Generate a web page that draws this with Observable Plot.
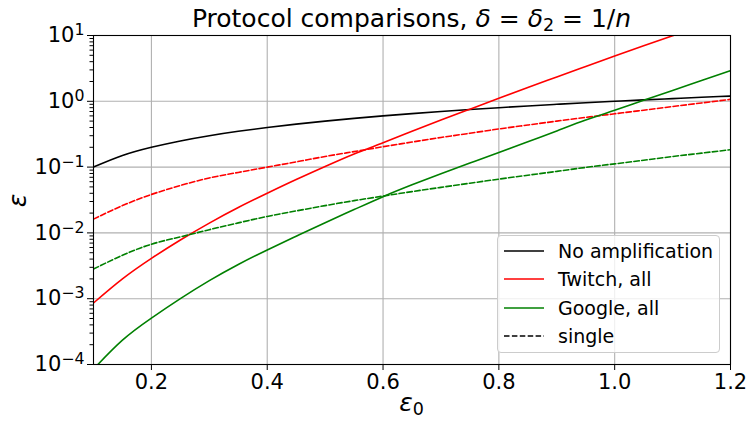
<!DOCTYPE html>
<html><head><meta charset="utf-8">
<script src="https://cdn.jsdelivr.net/npm/d3@7"></script>
<script src="https://cdn.jsdelivr.net/npm/@observablehq/plot@0.6"></script>
<style>
body{margin:0;background:#fff;}
#wrap{position:relative;width:754px;height:424px;font-family:"DejaVu Sans",sans-serif;color:#000;overflow:hidden;}
#chart{position:absolute;left:0;top:0;}
.title{position:absolute;top:6px;left:93px;width:637px;text-align:center;font-size:25px;line-height:25px;white-space:nowrap;}
.xlab{position:absolute;left:93px;width:637px;top:390px;text-align:center;font-size:25px;line-height:25px;}
.ylab{position:absolute;left:-3px;top:188px;width:40px;text-align:center;font-size:25px;line-height:25px;transform:rotate(-90deg);}
i{font-style:italic;}
sub{font-size:0.7em;vertical-align:-0.25em;line-height:0;}
.legend{position:absolute;left:497px;top:235px;width:221px;height:116px;border:1px solid #cccccc;border-radius:4px;background:rgba(255,255,255,0.8);box-sizing:content-box;}
.legend .item{position:absolute;left:0;height:28px;display:flex;align-items:center;font-size:19px;}
.legend svg{margin-left:6px;margin-right:14px;}
</style></head><body>
<div id="wrap">
<div id="chart"></div>
<div class="title">Protocol comparisons, <i>δ</i> = <i>δ</i><sub>2</sub> = 1/<i>n</i></div>
<div class="xlab"><i>ε</i><sub>0</sub></div>
<div class="ylab"><i>ε</i></div>
<div class="legend" id="legend"></div>
</div>
<script>
// epsilon_0 values (x)
const eps0 = [0.1,0.15,0.2,0.25,0.3,0.35,0.4,0.45,0.5,0.55,0.6,0.65,0.7,0.75,0.8,0.85,0.9,0.95,1.0,1.05,1.1,1.15,1.2];
// No amplification (epsilon = epsilon_0)
const noAmp = [0.1,0.15,0.2,0.25,0.3,0.35,0.4,0.45,0.5,0.55,0.6,0.65,0.7,0.75,0.8,0.85,0.9,0.95,1.0,1.05,1.1,1.15,1.2];
// Twitch, all
const twitchAll = [0.00086,0.0020,0.0041,0.0078,0.0141,0.0243,0.040,0.0646,0.102,0.158,0.234,0.35,0.52,0.76,1.11,1.62,2.34,3.39,4.9,7.0,9.9,13.8,19.3];
// Twitch, single
const twitchSingle = [0.0162,0.026,0.0384,0.0525,0.0684,0.083,0.100,0.120,0.145,0.172,0.204,0.240,0.282,0.327,0.380,0.436,0.50,0.569,0.646,0.733,0.832,0.944,1.07];
// Google, all
const googleAll = [0.000085,0.000234,0.000506,0.0010,0.00188,0.00331,0.00551,0.00891,0.0143,0.0226,0.0355,0.0537,0.0794,0.115,0.166,0.243,0.355,0.519,0.730,1.035,1.46,2.07,2.92];
// Google, single
const googleSingle = [0.00282,0.00457,0.00673,0.00871,0.0112,0.0142,0.0178,0.0216,0.0260,0.0309,0.0363,0.0424,0.0492,0.0569,0.0656,0.0753,0.0861,0.0989,0.112,0.127,0.145,0.163,0.184];

const xTicks = [0.2,0.4,0.6,0.8,1.0,1.2];
const yTicks = [1e-4,1e-3,1e-2,1e-1,1,10];
const yMinor = [];
for (const d of [1e-4,1e-3,1e-2,1e-1,1]) for (let k = 2; k <= 9; k++) yMinor.push(d*k);

const seriesDefs = [
  {name:"No amplification", values:noAmp, color:"black", dash:null},
  {name:"Twitch, all", values:twitchAll, color:"#ff0000", dash:null},
  {name:"Twitch, single", values:twitchSingle, color:"#ff0000", dash:"5.5,2.4"},
  {name:"Google, all", values:googleAll, color:"#008000", dash:null},
  {name:"Google, single", values:googleSingle, color:"#008000", dash:"5.5,2.4"}
];

const lineMarks = seriesDefs.map(s => Plot.line(eps0.map((x,i)=>({x, y:s.values[i]})), {
  x:"x", y:"y", stroke:s.color, strokeWidth:1.6, strokeDasharray:s.dash, curve:"natural", clip:true
}));

const chart = Plot.plot({
  width:754, height:424,
  marginLeft:93, marginRight:24, marginTop:35, marginBottom:60,
  style:{fontFamily:"DejaVu Sans", fontSize:"21px", background:"white", color:"black", overflow:"visible"},
  x:{domain:[0.1,1.2]},
  y:{type:"log", domain:[1e-4,10]},
  marks:[
    Plot.gridX(xTicks, {stroke:"#b0b0b0", strokeOpacity:1, strokeWidth:1.1}),
    Plot.gridY(yTicks, {stroke:"#b0b0b0", strokeOpacity:1, strokeWidth:1.1}),
    ...lineMarks,
    Plot.frame({stroke:"black", strokeWidth:1.1}),
    Plot.axisX(xTicks, {tickSize:6, tickPadding:3.5, tickFormat:d3.format(".1f"), label:null, fontSize:21}),
    Plot.axisY(yTicks, {tickSize:6, tickPadding:3, tickFormat:d => "10^" + Math.round(Math.log10(d)), label:null, fontSize:21}),
    Plot.axisY(yMinor, {tickSize:3.5, tickFormat:() => "", label:null})
  ]
});
document.getElementById("chart").appendChild(chart);

// superscript exponents on the y tick labels
chart.querySelectorAll("text").forEach(t => {
  const s = t.textContent;
  const m = /^10\^(-?\d+)$/.exec(s);
  if (m) {
    const e = m[1].replace("-", "\u2212");
    t.textContent = "10";
    const ts = document.createElementNS("http://www.w3.org/2000/svg", "tspan");
    ts.setAttribute("dy", "-0.45em");
    ts.setAttribute("font-size", "0.75em");
    ts.textContent = e;
    t.appendChild(ts);
  }
});

// legend
const legendItems = [
  {label:"No amplification", color:"black", dash:null},
  {label:"Twitch, all", color:"#ff0000", dash:null},
  {label:"Google, all", color:"#008000", dash:null},
  {label:"single", color:"black", dash:"5.5,2.4"}
];
const lg = document.getElementById("legend");
legendItems.forEach((it, i) => {
  const div = document.createElement("div");
  div.className = "item";
  div.style.top = (1 + i*28.3) + "px";
  div.innerHTML = `<svg width="40" height="10"><line x1="0" x2="40" y1="5" y2="5" stroke="${it.color}" stroke-width="1.6" ${it.dash ? `stroke-dasharray="${it.dash}"` : ""}/></svg><span>${it.label}</span>`;
  lg.appendChild(div);
});
</script>
</body></html>
